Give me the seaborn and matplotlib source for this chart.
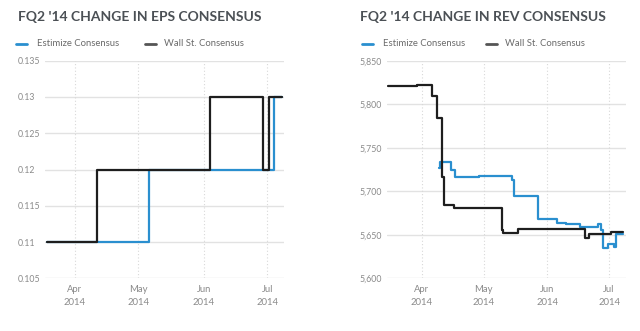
import matplotlib
matplotlib.use("Agg")
import matplotlib.pyplot as plt
import matplotlib.dates as mdates
from matplotlib.lines import Line2D
from matplotlib.ticker import FuncFormatter, FixedLocator
import seaborn as sns
import pandas as pd

sns.set_style("white")
plt.rcParams['font.family'] = ['Lato', 'DejaVu Sans']

# ---------------- data ----------------
eps_wall_dates = ["2014-03-19 00:00", "2014-04-11 16:00", "2014-06-03 22:00", "2014-06-29 00:00", "2014-07-01 16:00", "2014-07-07 20:00"]
eps_wall_vals = [0.11, 0.12, 0.13, 0.12, 0.13, 0.13]
eps_est_dates = ["2014-03-19 00:00", "2014-05-06 00:00", "2014-07-04 00:00", "2014-07-07 20:00"]
eps_est_vals = [0.11, 0.12, 0.13, 0.13]

rev_wall_dates = ["2014-03-15 20:00", "2014-03-29 14:00", "2014-04-05 20:00", "2014-04-08 14:00",
                  "2014-04-11 00:00", "2014-04-11 20:00", "2014-04-16 16:00", "2014-05-09 20:00",
                  "2014-05-10 14:00", "2014-05-17 20:00", "2014-06-19 12:00", "2014-06-21 08:00",
                  "2014-07-01 20:00", "2014-07-07 12:00"]
rev_wall_vals = [5821, 5822.5, 5810, 5784, 5716, 5684, 5681, 5656, 5652, 5657, 5646, 5650.5, 5653.5, 5653.5]
rev_est_dates = ["2014-04-09 12:00", "2014-04-09 18:00", "2014-04-15 04:00", "2014-04-17 04:00",
                 "2014-04-28 20:00", "2014-05-15 00:00", "2014-05-15 20:00", "2014-05-27 08:00",
                 "2014-06-05 14:00", "2014-06-09 20:00", "2014-06-16 22:00", "2014-06-25 14:00",
                 "2014-06-26 22:00", "2014-06-27 20:00", "2014-06-30 12:00", "2014-07-03 10:00",
                 "2014-07-04 04:00", "2014-07-07 20:00"]
rev_est_vals = [5727, 5734, 5725, 5716, 5718, 5712.6, 5694, 5668, 5663, 5662, 5659.5, 5662,
                5656, 5634.5, 5639, 5636.5, 5651, 5651]

eps_yticks = [0.105, 0.11, 0.115, 0.12, 0.125, 0.13, 0.135]
rev_yticks = [5600, 5650, 5700, 5750, 5800, 5850]

titles = ["FQ2 '14 CHANGE IN EPS CONSENSUS", "FQ2 '14 CHANGE IN REV CONSENSUS"]
series_names = ["Estimize Consensus", "Wall St. Consensus"]
colors = {"Estimize Consensus": "#2a8fcf", "Wall St. Consensus": "#1e1e1e"}


def make_df(est_d, est_v, wall_d, wall_v):
    a = pd.DataFrame({"date": pd.to_datetime(est_d, format="%Y-%m-%d %H:%M"), "value": est_v, "series": series_names[0]})
    b = pd.DataFrame({"date": pd.to_datetime(wall_d, format="%Y-%m-%d %H:%M"), "value": wall_v, "series": series_names[1]})
    return pd.concat([a, b], ignore_index=True)


eps_df = make_df(eps_est_dates, eps_est_vals, eps_wall_dates, eps_wall_vals)
rev_df = make_df(rev_est_dates, rev_est_vals, rev_wall_dates, rev_wall_vals)

fig = plt.figure(figsize=(6.4, 3.31), dpi=100)
ax1 = fig.add_axes([0.0703, 0.1592, 0.3734, 0.6574])
ax2 = fig.add_axes([0.6042, 0.1592, 0.3734, 0.6574])

panels = [
    (ax1, eps_df, eps_yticks, ("2014-03-17 20:00", "2014-07-08 22:00"),
     lambda v, p: ("%.3f" % v).rstrip("0")),
    (ax2, rev_df, rev_yticks, ("2014-03-15 00:00", "2014-07-09 00:00"),
     lambda v, p: "{:,.0f}".format(v)),
]

for ax, df, yt, xl, fmt in panels:
    sns.lineplot(data=df, x="date", y="value", hue="series", palette=colors,
                 hue_order=series_names, drawstyle="steps-post", linewidth=1.6,
                 estimator=None, legend=False, ax=ax)
    ax.set_ylim(yt[0], yt[-1])
    ax.set_xlim(pd.Timestamp(xl[0]), pd.Timestamp(xl[1]))
    ax.yaxis.set_major_locator(FixedLocator(yt))
    ax.yaxis.set_major_formatter(FuncFormatter(fmt))
    ax.xaxis.set_major_locator(mdates.MonthLocator())
    ax.xaxis.set_major_formatter(mdates.DateFormatter("%b\n%Y"))
    ax.set_xlabel("")
    ax.set_ylabel("")
    for s in ax.spines.values():
        s.set_visible(False)
    ax.grid(False)
    for y in yt:
        ax.axhline(y, color="#e2e2e2", linewidth=1.0, zorder=0)
    ax.xaxis.grid(True, color="#d8d8d8", linestyle=(0, (1, 2)), linewidth=0.8)
    ax.set_axisbelow(True)
    ax.tick_params(axis="y", length=0, pad=19.5, labelsize=6.3, labelcolor="#8a8a8a")
    ax.tick_params(axis="x", length=0, pad=4.5, labelsize=6.8, labelcolor="#8a8a8a")
    for lab in ax.get_yticklabels():
        lab.set_horizontalalignment("left")
    for lab in ax.get_xticklabels():
        lab.set_linespacing(1.6)

# titles
fig.text(18 / 640, 1 - 17 / 331, titles[0], fontsize=10.0, fontweight="bold", color="#4b5055", va="center")
fig.text(360 / 640, 1 - 17 / 331, titles[1], fontsize=10.0, fontweight="bold", color="#4b5055", va="center")

# legends
ly = 1 - 43.5 / 331
for x0 in (16, 362):
    fig.add_artist(Line2D([x0 / 640, (x0 + 11) / 640], [ly, ly], color=colors[series_names[0]], linewidth=2.0))
    fig.text((x0 + 21) / 640, ly, series_names[0], fontsize=6.8, color="#6a6a6a", va="center")
    xg = x0 + 129 if x0 == 16 else x0 + 124
    fig.add_artist(Line2D([xg / 640, (xg + 11) / 640], [ly, ly], color="#555555", linewidth=2.0))
    fig.text((xg + 19) / 640, ly, series_names[1], fontsize=6.8, color="#6a6a6a", va="center")

fig.savefig("out.png", dpi=100)
